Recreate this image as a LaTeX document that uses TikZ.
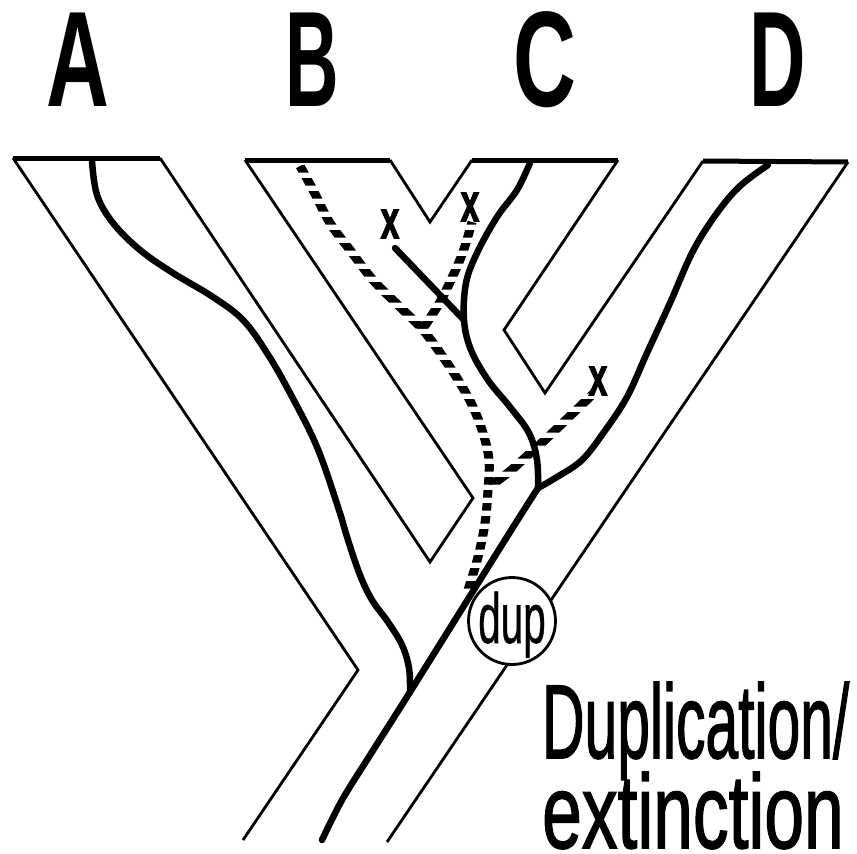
\documentclass[tikz,border=0pt]{standalone}
\usepackage{fontspec}
\setmainfont{Liberation Sans}
\newfontfamily\capfont{Liberation Sans}[FakeBold=1.6]
\newfontfamily\xfont{Liberation Sans}[BoldFeatures={FakeBold=2.5}]
\newfontfamily\dupfont{Liberation Sans}[FakeBold=0.8]
\begin{document}
\begin{tikzpicture}[x=1pt,y=-1pt,
  edge/.style={line width=2.8pt,line join=miter},
  topbar/.style={line width=5pt},
  gene/.style={line width=6.5pt,line cap=round,line join=round},
  lost/.style={line width=9pt},
  tip/.style={font=\bfseries\fontsize{136}{136}\selectfont,anchor=base,inner sep=0pt},
  xmark/.style={font=\xfont\bfseries\fontsize{54}{54}\selectfont,xscale=0.62,inner sep=0pt},
  captext/.style={anchor=base west,inner sep=0pt,font=\capfont\fontsize{105}{105}\selectfont}]
\useasboundingbox (0,0) rectangle (857,854);
% species tree outline
\coordinate (a1) at (13,158);   \coordinate (a2) at (160,158);
\coordinate (b1) at (245,160);  \coordinate (b2) at (390,160);
\coordinate (c1) at (472,160);  \coordinate (c2) at (618,160);
\coordinate (d1) at (703,161);  \coordinate (d2) at (848,162);
\coordinate (lv) at (358,670);  \coordinate (lb) at (243,840);
\coordinate (abv) at (430,562); \coordinate (abk) at (473,498);
\coordinate (bcv) at (430,222);
\coordinate (cdk) at (504,330); \coordinate (cdv) at (545,393);
\coordinate (rb) at (387,842);
\draw[topbar] (a1) -- (a2);
\draw[topbar] (b1) -- (b2);
\draw[topbar] (c1) -- (c2);
\draw[topbar] (d1) -- (d2);
\draw[edge] (a1) -- (lv) -- (lb);
\draw[edge] (a2) -- (abv) -- (abk) -- (b1);
\draw[edge] (b2) -- (bcv) -- (c1);
\draw[edge] (c2) -- (cdk) -- (cdv) -- (d1);
\draw[edge] (d2) -- (rb);
% gene tree: junctions
\coordinate (j1) at (538,488);
\coordinate (ja) at (410,692);
\coordinate (jb) at (464,320);
% solid lineage
\draw[gene] plot[smooth,tension=0.6] coordinates {(92,161) (97,195) (113,223) (140,250) (173,273) (213,297) (243,320) (267,353) (290,393) (317,447) (338,507) (348,540) (360,575) (372,600) (388,622) (402,645) (409,668) (ja)};
\draw[gene] plot[smooth,tension=0.5] coordinates {(j1) (505,540) (ja) (372,752) (342,800) (322,840)};
\draw[gene] plot[smooth,tension=0.6] coordinates {(j1) (537,460) (529,433) (510,407) (488,380) (471,350) (jb) (466,283) (477,253) (497,217) (517,190) (530,163)};
\draw[gene] plot[smooth,tension=0.6] coordinates {(j1) (557,477) (582,460) (604,432) (627,397) (647,353) (670,303) (693,251) (717,213) (740,186) (768,165)};
\draw[gene] (395,248) -- (jb);
% hatched (second copy): thick paths cut into horizontal bars
\begin{scope}
\clip \foreach \k in {0,...,34} {(250,165+13*\k) rectangle (620,172.5+13*\k)};
\draw[lost] plot[smooth,tension=0.6] coordinates {(300,166) (313,190) (330,223) (350,250) (373,280) (400,307) (423,330) (443,357) (460,383) (473,407) (483,433) (489,460) (488,490) (485,523) (478,557) (468,590)};
\draw[lost] plot[smooth,tension=0.6] coordinates {(472,222) (463,252) (451,280) (440,302) (430,318) (420,333)};
\draw[lost] plot[smooth,tension=0.6] coordinates {(594,393) (570,416) (547,438) (527,456) (509,472) (490,486)};
\end{scope}
% loss marks
\node[xmark] (x1) at (390,224) {x};
\node[xmark] (x2) at (470,207) {x};
\node[xmark] (x3) at (598,381) {x};
% duplication
\node[circle,draw,line width=2.8pt,fill=white,minimum size=87pt,inner sep=0pt] (dup) at (512,621) {};
\node[font=\dupfont\fontsize{71}{71}\selectfont,xscale=0.57,inner sep=0pt,anchor=base] (duptxt) at (512,643) {dup};
% labels
\node[tip,xscale=0.64] (lA) at (78,106) {A};
\node[tip,xscale=0.545] (lB) at (312,106) {B};
\node[tip,xscale=0.64] (lC) at (545,106) {C};
\node[tip,xscale=0.575] (lD) at (778,106) {D};
\node[captext,xscale=0.56,text depth=12pt] (t1) at (542,758) {Duplication/};
\node[captext,xscale=0.68,text height=74pt,text depth=0pt] (t2) at (542,848) {extinction};
\end{tikzpicture}
\end{document}
